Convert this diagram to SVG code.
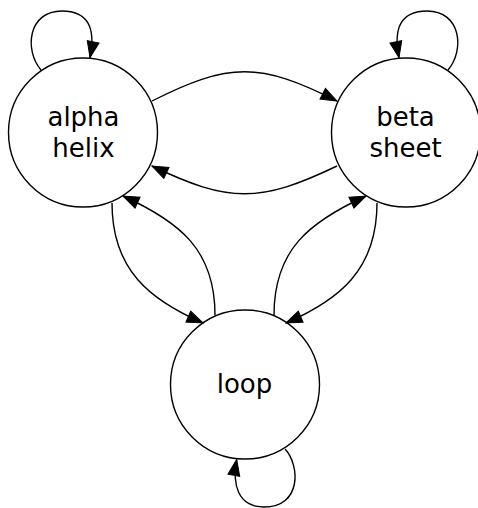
<svg xmlns="http://www.w3.org/2000/svg" width="478" height="508" viewBox="0 0 478 508">
<style>
.node circle{fill:#fff;stroke:#000;stroke-width:1.4}
.node text{font-family:"DejaVu Sans",sans-serif;font-size:26px;text-anchor:middle;fill:#000}
.edges path{fill:none;stroke:#000;stroke-width:1.4;marker-end:url(#arr)}
</style>
<defs>
<marker id="arr" markerUnits="userSpaceOnUse" markerWidth="20" markerHeight="16" refX="16" refY="6" orient="auto" overflow="visible">
<path d="M0,0 L16,6 L0,12 z" fill="#000" stroke="#000" stroke-width="1"/>
</marker>
</defs>
<rect width="478" height="508" fill="#fff"/>
<g id="alpha-helix" class="node">
<circle cx="83" cy="132.5" r="74.5"/>
<text x="83.5" y="125.5">alpha</text>
<text x="83.5" y="157">helix</text>
</g>
<g id="beta-sheet" class="node">
<circle cx="406" cy="132.5" r="74.5"/>
<text x="405.5" y="125.5">beta</text>
<text x="405.5" y="157">sheet</text>
</g>
<g id="loop" class="node">
<circle cx="245" cy="384.5" r="74.5"/>
<text x="244.5" y="393">loop</text>
</g>
<g id="connectors" class="edges">
<path d="M41,70 C24,50 28,11 62,11 C88,11 96,28 90,57.5"/>
<path d="M448,70 C465,50 461,11 427,11 C401,11 393,28 399,57.5"/>
<path d="M285,449 C300,465 302,507 264,507 C238,507 232,485 236.7,459.5"/>
<path d="M152,101 C229,62 260,62 337,101"/>
<path d="M337,166 C260,203 229,203 152,166"/>
<path d="M112,203 C112,270 150,300 203,323"/>
<path d="M215,315 C215,250 180,222 123,196"/>
<path d="M274,315 C274,250 309,222 366,196"/>
<path d="M377,203 C377,270 339,300 286,323"/>
</g>
</svg>
